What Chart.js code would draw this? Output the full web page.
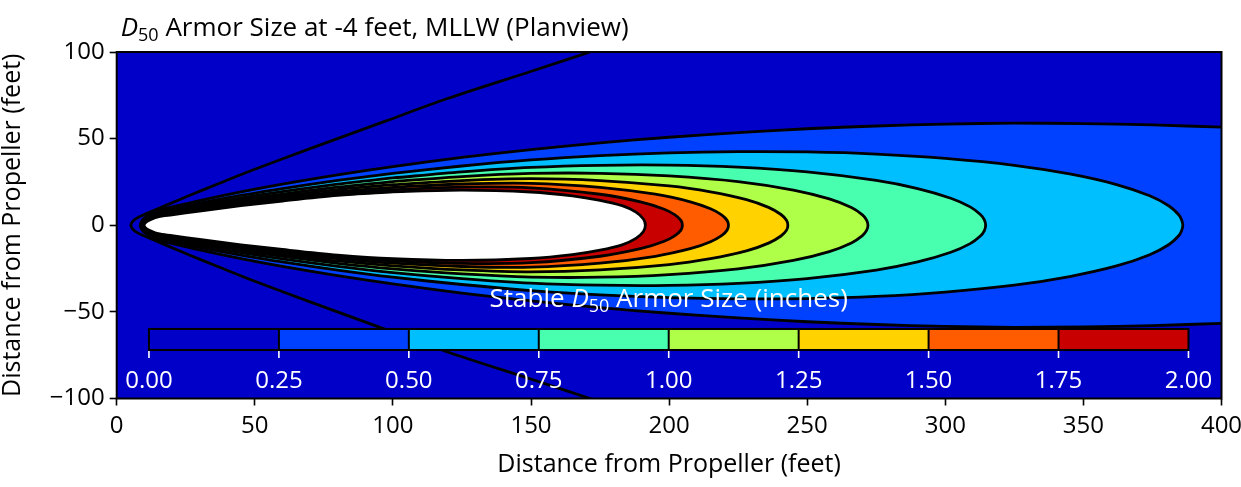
<!DOCTYPE html>
<html>
<head>
<meta charset="utf-8">
<script src="https://cdn.jsdelivr.net/npm/chart.js@4.4.1/dist/chart.umd.min.js"></script>
<style>
  html, body { margin: 0; padding: 0; background: #fff; }
  #wrap { width: 1241px; height: 487px; }
</style>
</head>
<body>
<div id="wrap"><canvas id="chart" width="1241" height="487"></canvas></div>
<script>
// contour levels (inches) and the colour of each band between two levels
const levels = [0, 0.25, 0.5, 0.75, 1.0, 1.25, 1.5, 1.75, 2.0];
const bandColors = ["#0000c8", "#0040ff", "#00bfff", "#48ffaf", "#afff48", "#ffd200", "#ff5c00", "#c80000"];

const xTicks = [0, 50, 100, 150, 200, 250, 300, 350, 400];
const yTicks = [-100, -50, 0, 50, 100];

// upper half of each contour line (feet); the plan view is symmetric about y = 0
const edge0X = [5.1, 5.8, 7.3, 9.6, 13, 18, 26.5, 37, 48.8, 70, 97.3, 119.5, 149.6, 171.4, 185, 200];
const edge0Y = [0, 2.2, 4.1, 5.9, 8.2, 11.6, 17.3, 24.1, 31.6, 44.2, 60.1, 73, 88.6, 100, 107, 114.5];

const d025X = [8.5, 9.3, 11, 15, 20, 30, 45, 60, 80, 100, 125, 150, 175, 200, 225, 250, 275, 300, 325, 350, 375, 400, 410, 430];
const d025Y = [0, 3.0, 5.3, 8.6, 10.5, 14.2, 19.2, 23.7, 29.1, 33.9, 39.2, 43.7, 47.6, 50.8, 53.5, 55.7, 57.3, 58.4, 58.9, 58.7, 57.9, 56.6, 56.0, 54.5];

const d050X = [8.7, 9.5, 11.2, 15, 20, 30, 45, 60, 80, 100, 125, 150, 175, 200, 225, 250, 275, 300, 325, 345, 362, 374, 381, 384.5, 385.5, 386];
const d050Y = [0, 2.8, 4.9, 7.8, 9.5, 12.8, 17.2, 21.2, 25.9, 30.0, 34.2, 37.7, 40.2, 41.8, 42.5, 42.3, 41.1, 38.6, 34.6, 29.6, 23.5, 17.0, 11.1, 6.1, 3.3, 0];

const d075X = [8.9, 9.7, 11.4, 15, 20, 30, 45, 60, 80, 100, 125, 150, 175, 200, 225, 250, 275, 290, 302, 309, 312.7, 314.1, 314.6];
const d075Y = [0, 2.6, 4.6, 7.1, 8.8, 11.7, 15.8, 19.4, 23.7, 27.3, 30.8, 33.4, 34.6, 34.7, 33.5, 30.8, 25.9, 21.2, 15.6, 10.6, 6.2, 3.2, 0];

const d100X = [9.1, 9.9, 11.6, 15, 20, 30, 45, 60, 80, 100, 125, 150, 175, 200, 225, 245, 258, 266, 270, 271.5, 272];
const d100Y = [0, 2.4, 4.3, 6.6, 8.1, 10.9, 14.7, 18.0, 22.0, 25.2, 28.1, 29.9, 30.0, 28.5, 25.2, 20.3, 15.2, 10.2, 6.0, 3.0, 0];

const d125X = [9.3, 10.1, 11.8, 15, 20, 30, 45, 60, 80, 100, 125, 150, 175, 200, 215, 228, 236, 240.5, 242.5, 243];
const d125Y = [0, 2.3, 4.1, 6.1, 7.5, 10.1, 13.7, 16.9, 20.6, 23.4, 25.8, 26.9, 25.8, 22.7, 19.3, 14.8, 10.3, 6.2, 2.9, 0];

const d150X = [9.5, 10.3, 12.0, 15, 20, 30, 45, 60, 80, 100, 125, 150, 175, 195, 208, 215, 219, 221, 221.5];
const d150Y = [0, 2.2, 3.8, 5.7, 7.0, 9.5, 12.9, 15.8, 19.3, 21.9, 23.8, 24.2, 21.9, 17.9, 13.4, 9.5, 6.0, 2.8, 0];

const d175X = [9.7, 10.5, 12.2, 15, 20, 30, 45, 60, 80, 100, 125, 150, 175, 190, 198, 202, 204.3, 204.8];
const d175Y = [0, 2.0, 3.6, 5.3, 6.5, 8.8, 12.1, 14.9, 18.2, 20.5, 22.0, 21.6, 17.9, 13.4, 9.4, 6.1, 2.8, 0];

const d200X = [9.9, 10.7, 12.4, 15, 20, 30, 45, 60, 80, 100, 125, 150, 165, 175, 183, 188, 190.7, 191.4];
const d200Y = [0, 1.9, 3.4, 4.9, 6.0, 8.2, 11.3, 14.0, 17.2, 19.3, 20.3, 19.2, 17.0, 14.4, 11.3, 7.6, 3.6, 0];

const FONT = "'Open Sans', 'Noto Sans', sans-serif";
Chart.defaults.font.family = FONT;
Chart.defaults.color = "#000";

// closed ring: upper half, mirrored lower half, back to start; the seam sits on a smooth stretch
const ring = (xs, ys) => {
  const seam = xs.indexOf(100);
  const upper = xs.map((x, i) => ({ x, y: ys[i] }));
  const lower = xs.map((x, i) => ({ x, y: -ys[i] })).reverse();
  const closedTip = ys[ys.length - 1] === 0;
  return [...upper.slice(seam), ...lower.slice(closedTip ? 1 : 0, -1), ...upper.slice(0, seam + 1)];
};

const wedge = () => {
  const upper = edge0X.map((x, i) => ({ x, y: edge0Y[i] })).reverse();
  const lower = edge0X.map((x, i) => ({ x, y: -edge0Y[i] })).slice(1);
  return [...upper, ...lower];
};

// innermost first: the filler draws the last dataset first
const contours = [
  [d200X, d200Y, "#ffffff"],
  [d175X, d175Y, bandColors[7]],
  [d150X, d150Y, bandColors[6]],
  [d125X, d125Y, bandColors[5]],
  [d100X, d100Y, bandColors[4]],
  [d075X, d075Y, bandColors[3]],
  [d050X, d050Y, bandColors[2]],
  [d025X, d025Y, bandColors[1]],
];

const LINE_W = 2.8;

const datasets = contours.map(([xs, ys, color]) => ({
  data: ring(xs, ys),
  showLine: true,
  fill: "shape",
  backgroundColor: color,
  borderColor: "#000",
  borderWidth: LINE_W,
  pointRadius: 0,
  tension: 0.3,
}));
datasets.push({
  data: wedge(),
  showLine: true,
  fill: false,
  borderColor: "#000",
  borderWidth: LINE_W,
  pointRadius: 0,
  tension: 0.3,
});

const drawRich = (ctx, parts, x, y, align) => {
  let total = 0;
  parts.forEach((p) => {
    ctx.font = p.font;
    p.w = ctx.measureText(p.text).width;
    total += p.w;
  });
  let cx = align === "center" ? x - total / 2 : x;
  parts.forEach((p) => {
    ctx.font = p.font;
    ctx.fillText(p.text, cx, y + (p.dy || 0));
    cx += p.w;
  });
};

const decor = {
  id: "decor",
  beforeDraw(chart) {
    const { ctx, chartArea: a } = chart;
    ctx.save();
    ctx.fillStyle = bandColors[0];
    ctx.fillRect(a.left, a.top, a.width, a.height);
    ctx.restore();
  },
  afterDatasetsDraw(chart) {
    const { ctx, chartArea: a } = chart;
    ctx.save();

    // colour bar inset
    const L = a.left + a.width * 0.0292;
    const R = a.left + a.width * 0.9701;
    const T = a.top + a.height * 0.7994;
    const B = a.top + a.height * 0.86;
    const w = (R - L) / bandColors.length;
    bandColors.forEach((c, i) => {
      ctx.fillStyle = c;
      ctx.fillRect(L + i * w, T, w, B - T);
    });
    ctx.strokeStyle = "#000";
    ctx.lineWidth = 2;
    for (let i = 1; i < bandColors.length; i++) {
      ctx.beginPath();
      ctx.moveTo(L + i * w, T);
      ctx.lineTo(L + i * w, B);
      ctx.stroke();
    }
    ctx.strokeRect(L, T, R - L, B - T);

    ctx.strokeStyle = "#fff";
    ctx.lineWidth = 1.6;
    ctx.fillStyle = "#fff";
    ctx.font = `24px ${FONT}`;
    ctx.textAlign = "center";
    ctx.textBaseline = "alphabetic";
    levels.forEach((v, i) => {
      const x = L + i * w;
      ctx.beginPath();
      ctx.moveTo(x, B + 1);
      ctx.lineTo(x, B + 8);
      ctx.stroke();
      ctx.fillText(v.toFixed(2), x, B + 38);
    });

    ctx.textAlign = "left";
    drawRich(ctx, [
      { text: "Stable ", font: `26px ${FONT}` },
      { text: "D", font: `italic 26px ${FONT}` },
      { text: "50", font: `18px ${FONT}`, dy: 5 },
      { text: " Armor Size (inches)", font: `26px ${FONT}` },
    ], (L + R) / 2, T - 22, "center");

    // axes frame
    ctx.strokeStyle = "#000";
    ctx.lineWidth = 2;
    ctx.strokeRect(a.left, a.top, a.width, a.height);
    ctx.restore();
  },
  afterDraw(chart) {
    const { ctx, chartArea: a } = chart;
    ctx.save();
    ctx.fillStyle = "#000";
    ctx.textAlign = "left";
    ctx.textBaseline = "alphabetic";
    drawRich(ctx, [
      { text: "D", font: `italic 26px ${FONT}` },
      { text: "50", font: `18px ${FONT}`, dy: 5 },
      { text: " Armor Size at -4 feet, MLLW (Planview)", font: `26px ${FONT}` },
    ], a.left + 4, a.top - 16, "left");
    ctx.restore();
  },
};

new Chart(document.getElementById("chart"), {
  type: "scatter",
  data: { datasets },
  options: {
    responsive: false,
    animation: false,
    devicePixelRatio: 1,
    layout: { padding: { left: 0, right: 19.5, top: 52, bottom: 0 } },
    plugins: {
      legend: { display: false },
      tooltip: { enabled: false },
      filler: { drawTime: "beforeDatasetsDraw" },
    },
    scales: {
      x: {
        type: "linear",
        min: 0,
        max: 400,
        afterBuildTicks: (s) => { s.ticks = xTicks.map((v) => ({ value: v })); },
        afterFit: (s) => { s.height = 88.5; s.paddingLeft = 0; s.paddingRight = 0; },
        ticks: { font: { size: 24 }, padding: 6, maxRotation: 0, autoSkip: false },
        grid: { drawOnChartArea: false, drawTicks: true, tickLength: 7, tickWidth: 1.6, tickColor: "#000" },
        border: { display: false },
        title: { display: true, text: "Distance from Propeller (feet)", font: { size: 25, lineHeight: 1 }, padding: { top: 0, bottom: 10 } },
      },
      y: {
        type: "linear",
        min: -100,
        max: 100,
        afterBuildTicks: (s) => { s.ticks = yTicks.map((v) => ({ value: v })); },
        afterFit: (s) => { s.width = 116.7; s.paddingTop = 0; s.paddingBottom = 0; },
        ticks: {
          font: { size: 24 },
          padding: 5,
          autoSkip: false,
          callback: (v) => (v < 0 ? "\u2212" + Math.abs(v) : String(v)),
        },
        grid: { drawOnChartArea: false, drawTicks: true, tickLength: 7, tickWidth: 1.6, tickColor: "#000" },
        border: { display: false },
        title: { display: true, text: "Distance from Propeller (feet)", font: { size: 25, lineHeight: 1 }, padding: { top: 0, bottom: 0 } },
      },
    },
  },
  plugins: [decor],
});
</script>
</body>
</html>
